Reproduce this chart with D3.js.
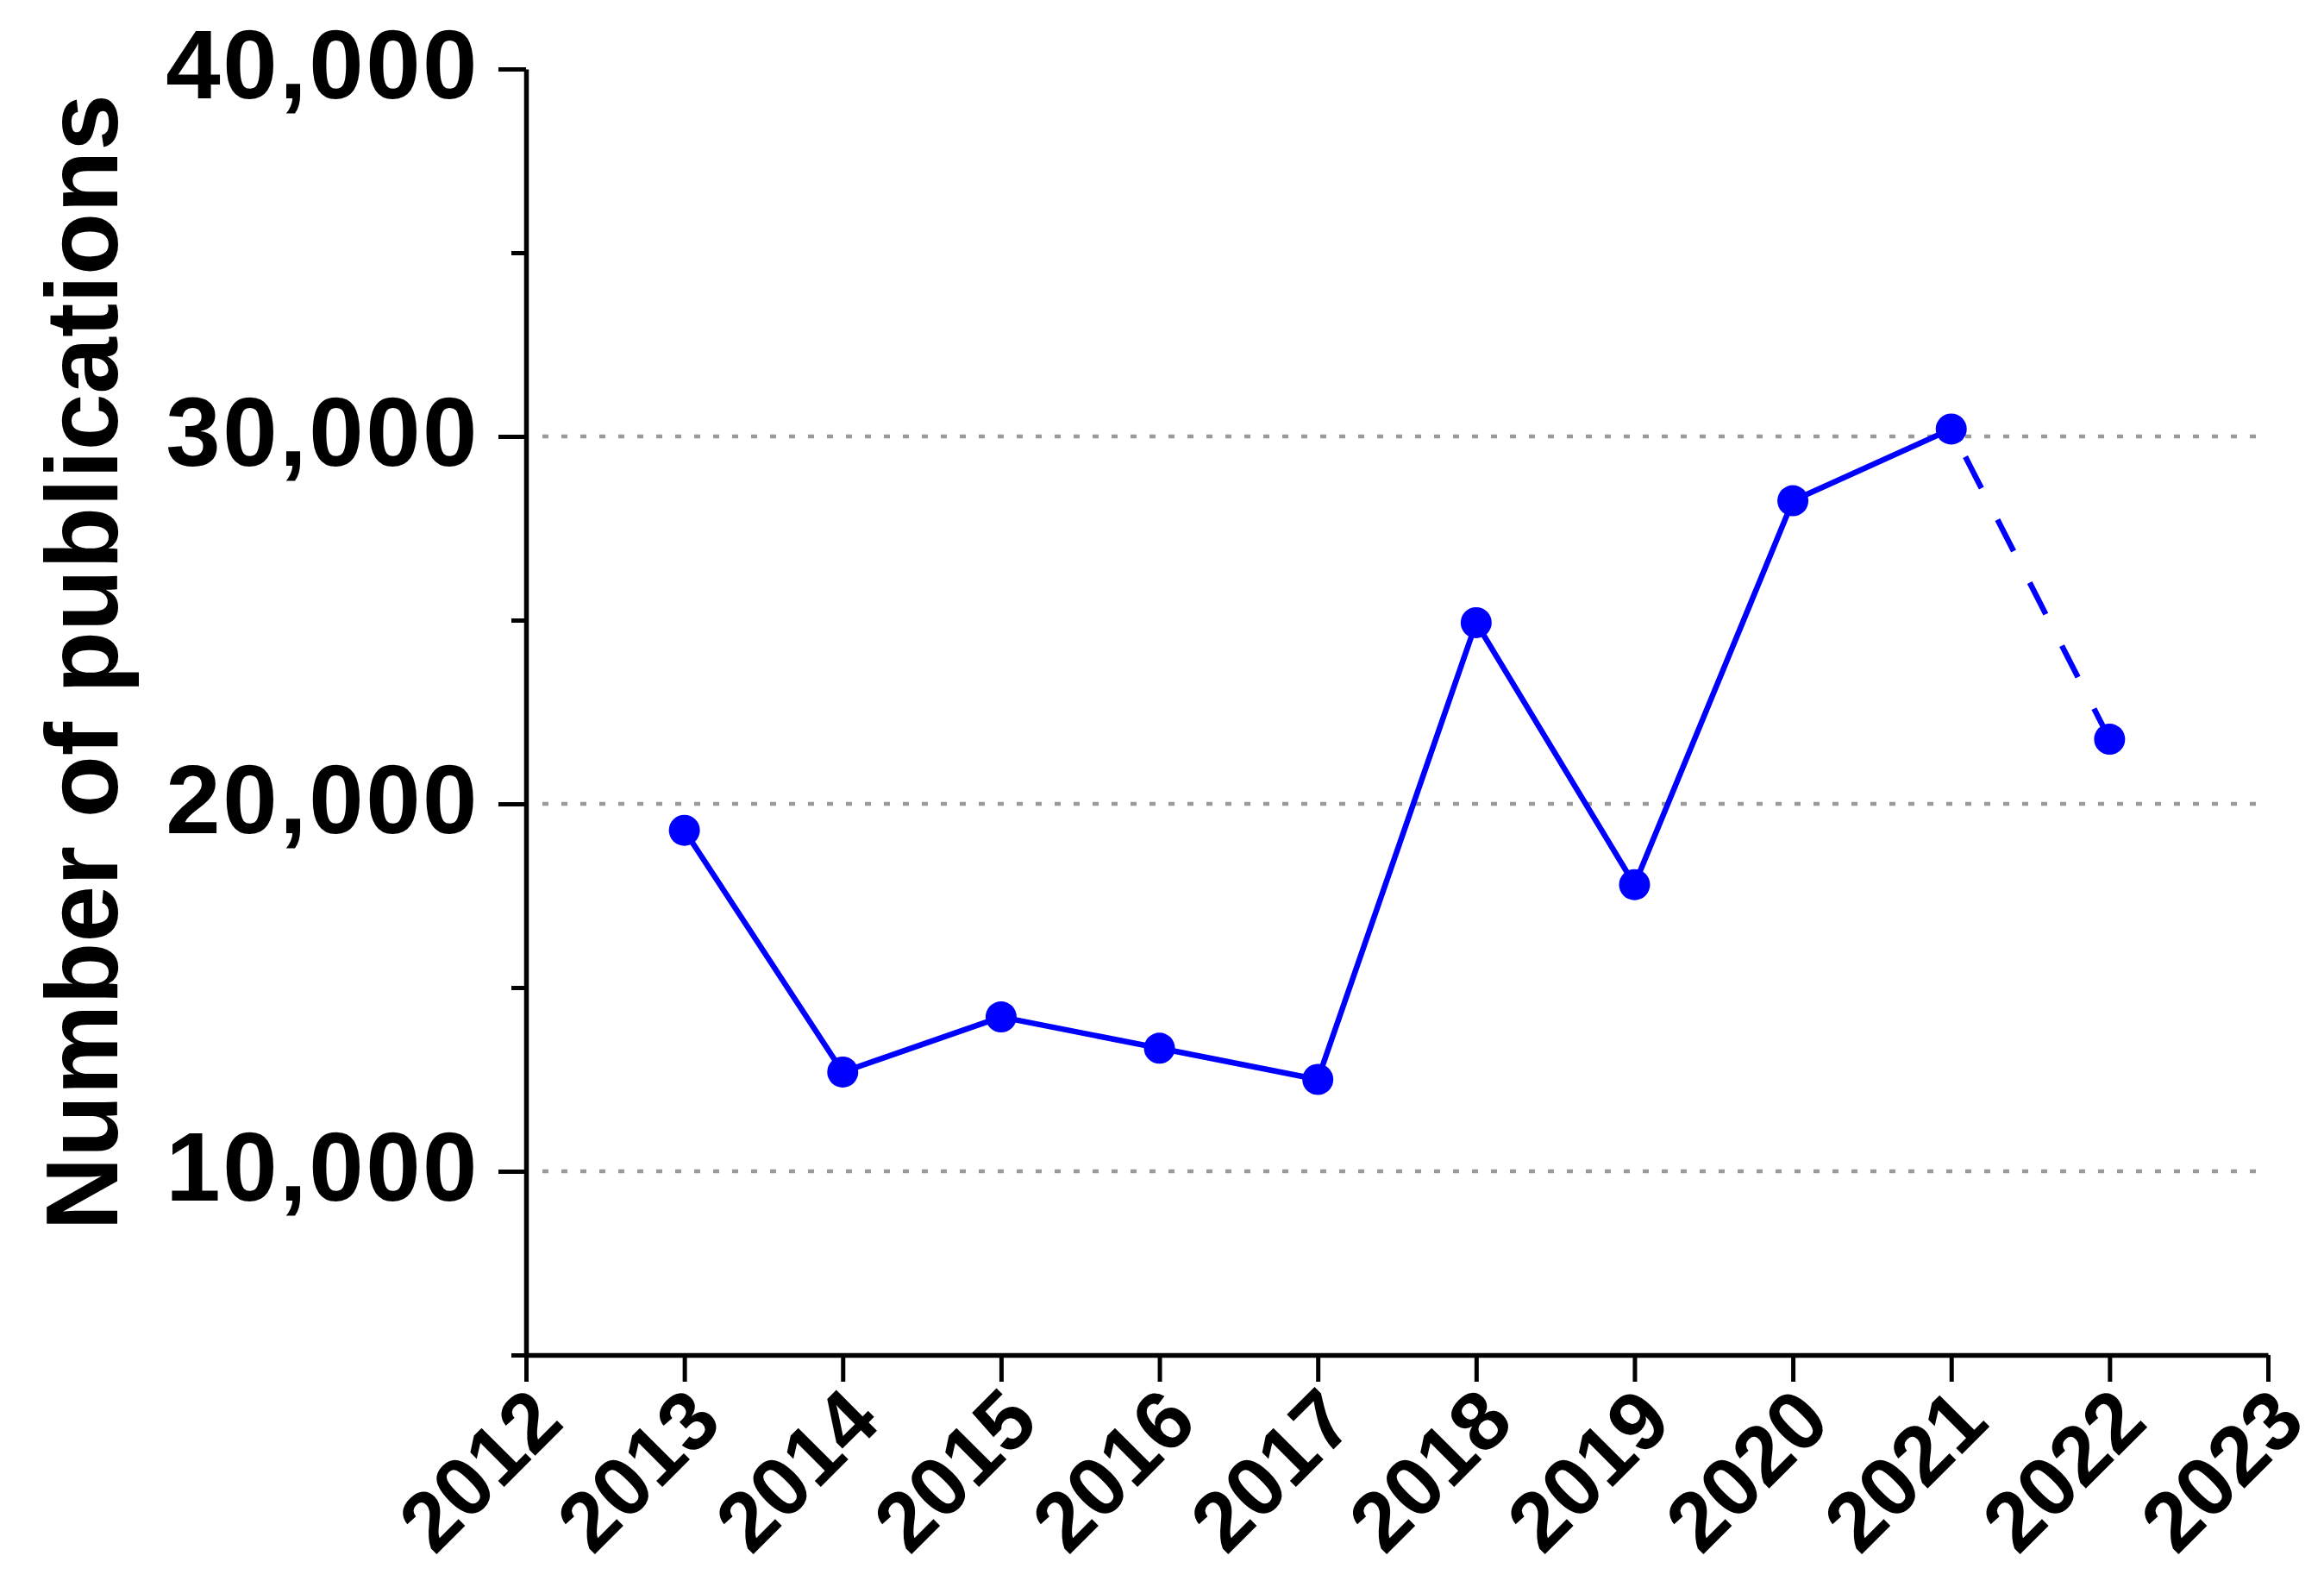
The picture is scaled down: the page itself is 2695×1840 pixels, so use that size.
<!DOCTYPE html>
<html>
<head>
<meta charset="utf-8">
<script src="https://cdn.jsdelivr.net/npm/d3@7"></script>
<style>
  html, body { margin: 0; padding: 0; background: #fff; }
  svg { display: block; }
  text { font-family: "Liberation Sans", Arial, sans-serif; font-weight: bold; fill: #000; }
</style>
</head>
<body>
<svg id="chart" width="2695" height="1840"></svg>
<script>
const years = [2013, 2014, 2015, 2016, 2017, 2018, 2019, 2020, 2021, 2022];
const publications = [19280, 12700, 14200, 13350, 12500, 24930, 17800, 28250, 30200, 21760];
const xTickValues = [2012, 2013, 2014, 2015, 2016, 2017, 2018, 2019, 2020, 2021, 2022, 2023];
const yMajorTicks = [10000, 20000, 30000, 40000];
const yMinorTicks = [5000, 15000, 25000, 35000];
const gridValues = [10000, 20000, 30000];
const yTitle = "Number of publications";

const svg = d3.select("#chart");
svg.append("rect").attr("width", 2695).attr("height", 1840).attr("fill", "#fff");

const x = d3.scaleLinear().domain([2012, 2023]).range([610, 2630]);
const y = d3.scaleLinear().domain([5000, 40000]).range([1571, 80]);

// gridlines
svg.append("g").selectAll("line").data(gridValues).join("line")
  .attr("x1", x(2012) + 19).attr("x2", x(2023) - 10)
  .attr("y1", d => y(d)).attr("y2", d => y(d))
  .attr("stroke", "#9a9a9a").attr("stroke-width", 4.5)
  .attr("stroke-dasharray", "7 15");

// y axis minor ticks
const yMinor = svg.append("g").attr("transform", `translate(${x(2012)},0)`)
  .call(d3.axisLeft(y).tickValues(yMinorTicks).tickSize(17).tickSizeOuter(0).tickFormat(""));
yMinor.select(".domain").remove();
yMinor.selectAll(".tick line").attr("stroke", "#000").attr("stroke-width", 5);

// y axis major
const yAx = svg.append("g").attr("transform", `translate(${x(2012)},0)`)
  .call(d3.axisLeft(y).tickValues(yMajorTicks).tickSize(32).tickSizeOuter(0).tickPadding(22)
    .tickFormat(d3.format(",")));
yAx.select(".domain").attr("stroke", "#000").attr("stroke-width", 5.5);
yAx.selectAll(".tick line").attr("stroke", "#000").attr("stroke-width", 5);
yAx.selectAll(".tick text").attr("font-size", 114).attr("dy", "0.29em")
  .style("letter-spacing", "2.5px")
  .style("font-family", '"Liberation Sans", Arial, sans-serif').style("font-weight", "bold").attr("fill", "#000");

// x axis
const xAx = svg.append("g").attr("transform", `translate(0,${y(5000)})`)
  .call(d3.axisBottom(x).tickValues(xTickValues).tickSize(31).tickSizeOuter(0).tickFormat(d => String(d)));
xAx.select(".domain").attr("stroke", "#000").attr("stroke-width", 5.5);
xAx.selectAll(".tick line").attr("stroke", "#000").attr("stroke-width", 5);
xAx.selectAll(".tick text")
  .attr("font-size", 97).attr("y", 0).attr("dy", 0).attr("x", 0)
  .attr("text-anchor", "end")
  .attr("transform", "translate(46,81) rotate(-45)")
  .style("font-family", '"Liberation Sans", Arial, sans-serif').style("font-weight", "bold").attr("fill", "#000");

// y title
svg.append("text")
  .attr("transform", "translate(136,768) rotate(-90)")
  .attr("text-anchor", "middle")
  .attr("font-size", 118)
  .text(yTitle);

// data
const pts = years.map((yr, i) => ({ year: yr, value: publications[i] }));
const line = d3.line().x(d => x(d.year)).y(d => y(d.value));
const solidPts = pts.filter(d => d.year <= 2021);
const dashPts = pts.filter(d => d.year >= 2021);

svg.append("path").datum(solidPts).attr("d", line)
  .attr("fill", "none").attr("stroke", "#0000ff").attr("stroke-width", 6.5)
  .attr("stroke-linejoin", "round");
svg.append("path").datum(dashPts).attr("d", line)
  .attr("fill", "none").attr("stroke", "#0000ff").attr("stroke-width", 6.5)
  .attr("stroke-dasharray", "41 41").attr("stroke-dashoffset", 46);

svg.append("g").selectAll("circle").data(pts).join("circle")
  .attr("cx", d => x(d.year)).attr("cy", d => y(d.value)).attr("r", 18)
  .attr("fill", "#0000ff");
</script>
</body>
</html>
